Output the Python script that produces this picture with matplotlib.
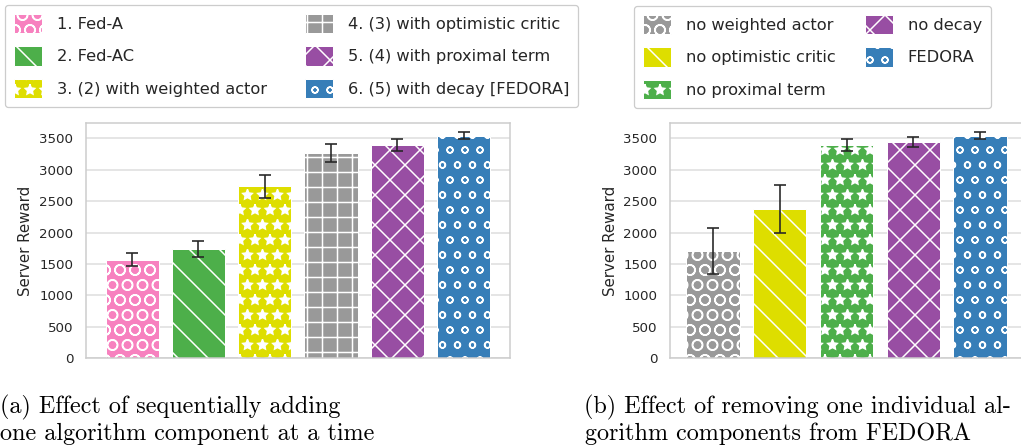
import numpy as np
import matplotlib
matplotlib.use("Agg")
import matplotlib.pyplot as plt

# Data
labels_a = ['1. Fed-A', '2. Fed-AC', '3. (2) with weighted actor',
            '4. (3) with optimistic critic', '5. (4) with proximal term',
            '6. (5) with decay [FEDORA]']
reward_a = [1570, 1745, 2735, 3275, 3400, 3540]
err_a = [100, 127, 178, 143, 93, 55]

labels_b = ['no weighted actor', 'no optimistic critic', 'no proximal term',
            'no decay', 'FEDORA']
reward_b = [1710, 2370, 3400, 3450, 3540]
err_b = [365, 382, 93, 80, 55]

# colors / hatches per variant
colors_a = ['#f781bf', '#4daf4a', '#dede00', '#999999', '#984ea3', '#377eb8']
hatches_a = ['O', '\\', '*', '+', 'x', 'o']
colors_b = ['#999999', '#dede00', '#4daf4a', '#984ea3', '#377eb8']
hatches_b = ['O', '\\', '*', 'x', 'o']

text_color = '#262626'
plt.rcParams['hatch.linewidth'] = 1.2
plt.rcParams['font.family'] = ['DejaVu Sans']
plt.rcParams['text.color'] = text_color

DPI = 90
W, H = 1021, 447
fig = plt.figure(figsize=(W / DPI, H / DPI), dpi=DPI)


def px_axes(left, right, top, bottom):
    return fig.add_axes([left / W, 1 - bottom / H, (right - left) / W, (bottom - top) / H])


def draw_panel(ax, values, errs, colors, hatches, xpad):
    x = np.arange(len(values))
    bars = ax.bar(x, values, width=0.8, color=colors, edgecolor='white', linewidth=0.8,
                  yerr=errs, error_kw=dict(ecolor=text_color, elinewidth=1.3,
                                           capsize=5, capthick=1.3), zorder=2)
    for b, h in zip(bars.patches, hatches):
        b.set_hatch(h)
    ax.set_xlim(-xpad, len(values) - 1 + xpad)
    ax.set_ylim(0, 3750)
    ax.set_yticks(np.arange(0, 3501, 500))
    ax.set_xticks([])
    ax.grid(axis='y', color='#dddddd', linewidth=1.2, zorder=0)
    ax.set_axisbelow(True)
    for s in ax.spines.values():
        s.set_color('#cccccc')
        s.set_linewidth(1.2)
    ax.tick_params(axis='y', length=0, pad=10, labelsize=10.7, labelcolor=text_color)
    ax.set_ylabel('Server Reward', fontsize=12, color=text_color, labelpad=4.5)
    return bars


ax1 = px_axes(85.7, 510, 122.7, 358.3)
bars1 = draw_panel(ax1, reward_a, err_a, colors_a, hatches_a, 0.70)

ax2 = px_axes(670, 1023, 122.7, 358.3)
bars2 = draw_panel(ax2, reward_b, err_b, colors_b, hatches_b, 0.645)

leg_kw = dict(ncol=2, loc='upper left', fontsize=13, handlelength=1.72, handleheight=1.45,
              handletextpad=0.92, labelspacing=0.8, borderpad=0.55,
              borderaxespad=0, edgecolor='#cccccc', framealpha=1, fancybox=True)
fig.legend(list(bars1.patches), labels_a, bbox_to_anchor=(5 / W, 1 - 5 / H),
           columnspacing=2.35, **leg_kw)
fig.legend(list(bars2.patches), labels_b, bbox_to_anchor=(634 / W, 1 - 6 / H),
           columnspacing=1.8, **leg_kw)

# sub captions
cap_kw = dict(fontfamily='cmr10', fontsize=19.3, color='black', va='center', ha='left')
fig.text(0.5 / W, 1 - 407 / H, '(a) Effect of sequentially adding', **cap_kw)
fig.text(0.5 / W, 1 - 434 / H, 'one algorithm component at a time', **cap_kw)
fig.text(584 / W, 1 - 407 / H, '(b) Effect of removing one individual al-', **cap_kw)
fig.text(585 / W, 1 - 434 / H, 'gorithm components from FEDORA', **cap_kw)

fig.savefig('out.png', dpi=DPI)
